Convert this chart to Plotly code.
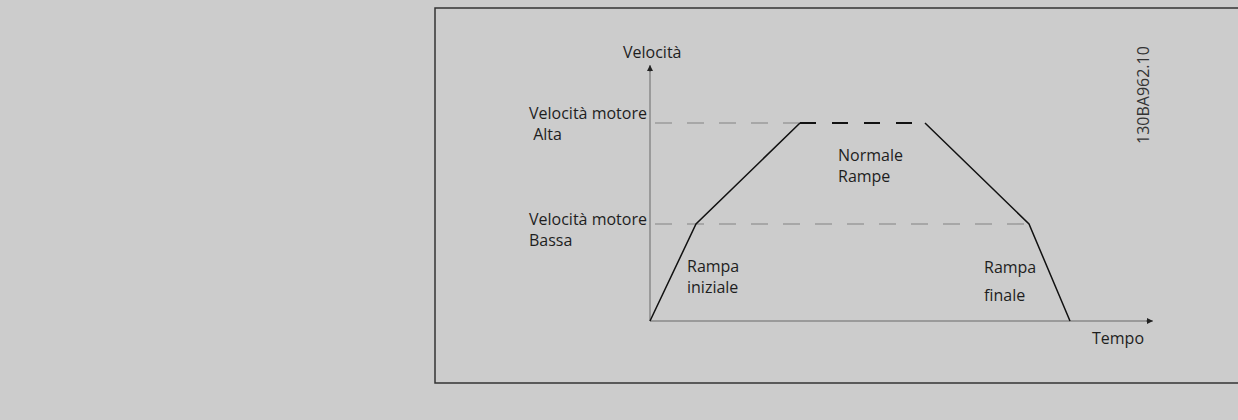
import plotly.graph_objects as go

# ramp profile (time units, speed in % of high speed)
ramp_up_t = [0, 4.6, 15.0]
ramp_up_v = [0, 49, 100]
plateau_t = [15.0, 27.5]
plateau_v = [100, 100]
ramp_down_t = [27.5, 37.9, 42.0]
ramp_down_v = [100, 49, 0]

speed_high = 100
speed_low = 49
ref_start = 0.5

# axes extents
t_axis_end = 50.3
v_axis_end = 129.3

# text labels: (text, t, v)
labels = [
    ("Velocità motore<br> Alta", -12.3, 100.0),
    ("Velocità motore<br>Bassa", -12.3, 46.0),
    ("Rampa<br>iniziale", 3.5, 22.3),
    ("Normale<br>Rampe", 18.6, 78.3),
    ("Rampa", 33.2, 27.3),
    ("finale", 33.2, 13.1),
    ("Tempo", 44.0, -8.6),
]

FONT = "Open Sans"
BG = "#cccccc"
TXT = "#1e1e1e"

fig = go.Figure()

# reference dashed lines for high / low speed
fig.add_trace(go.Scatter(x=[ref_start, plateau_t[0]], y=[speed_high, speed_high], mode="lines",
                         line=dict(color="#9a9a9a", width=1.5, dash="17px,15px"), hoverinfo="skip"))
fig.add_trace(go.Scatter(x=[ref_start, ramp_down_t[1]], y=[speed_low, speed_low], mode="lines",
                         line=dict(color="#9a9a9a", width=1.5, dash="17px,15px"), hoverinfo="skip"))

# axes
fig.add_trace(go.Scatter(x=[0, 0], y=[0, v_axis_end], mode="lines",
                         line=dict(color="#8a8a8a", width=1.5), hoverinfo="skip"))
fig.add_trace(go.Scatter(x=[0, t_axis_end], y=[0, 0], mode="lines",
                         line=dict(color="#8a8a8a", width=1.5), hoverinfo="skip"))

# ramp profile
fig.add_trace(go.Scatter(x=ramp_up_t, y=ramp_up_v, mode="lines",
                         line=dict(color="#111111", width=1.5), hoverinfo="skip"))
fig.add_trace(go.Scatter(x=plateau_t, y=plateau_v, mode="lines",
                         line=dict(color="#111111", width=2, dash="16px,16px"), hoverinfo="skip"))
fig.add_trace(go.Scatter(x=ramp_down_t, y=ramp_down_v, mode="lines",
                         line=dict(color="#111111", width=1.5), hoverinfo="skip"))

annotations = []
for text, t, v in labels:
    annotations.append(dict(x=t, y=v, xref="x", yref="y", text=text, showarrow=False,
                            xanchor="left", yanchor="middle", align="left",
                            font=dict(family=FONT, size=16, color=TXT)))

# axis title for speed
annotations.append(dict(x=0.2, y=135.9, xref="x", yref="y", text="Velocità", showarrow=False,
                        xanchor="center", yanchor="middle",
                        font=dict(family=FONT, size=16, color=TXT)))

# arrow heads
annotations.append(dict(x=0, y=v_axis_end, ax=0, ay=v_axis_end - 4, xref="x", yref="y",
                        axref="x", ayref="y", text="", showarrow=True, arrowhead=2,
                        arrowsize=1.2, arrowwidth=1, arrowcolor="#222222"))
annotations.append(dict(x=t_axis_end, y=0, ax=t_axis_end - 0.8, ay=0, xref="x", yref="y",
                        axref="x", ayref="y", text="", showarrow=True, arrowhead=2,
                        arrowsize=1.2, arrowwidth=1, arrowcolor="#222222"))

# drawing id
annotations.append(dict(x=1143 / 1238, y=1 - 95 / 420, xref="paper", yref="paper", text="130BA962.10",
                        showarrow=False, textangle=-90, xanchor="center", yanchor="middle",
                        font=dict(family=FONT, size=16, color="#333333")))

fig.update_layout(
    width=1238, height=420,
    margin=dict(l=0, r=0, t=0, b=0),
    paper_bgcolor=BG, plot_bgcolor=BG,
    showlegend=False,
    xaxis=dict(range=[-65, 58.8], visible=False, fixedrange=True),
    yaxis=dict(range=[-50, 162.12], visible=False, fixedrange=True),
    annotations=annotations,
    shapes=[dict(type="rect", xref="paper", yref="paper",
                 x0=435 / 1238, x1=1.01, y0=1 - 383 / 420, y1=1 - 8 / 420,
                 line=dict(color="#333333", width=1.5))],
)

fig.write_html("out.html", config={"displayModeBar": False},
               post_script="document.body.style.margin='0';document.body.style.overflow='hidden';"
                           "document.body.style.background='#cccccc';")
